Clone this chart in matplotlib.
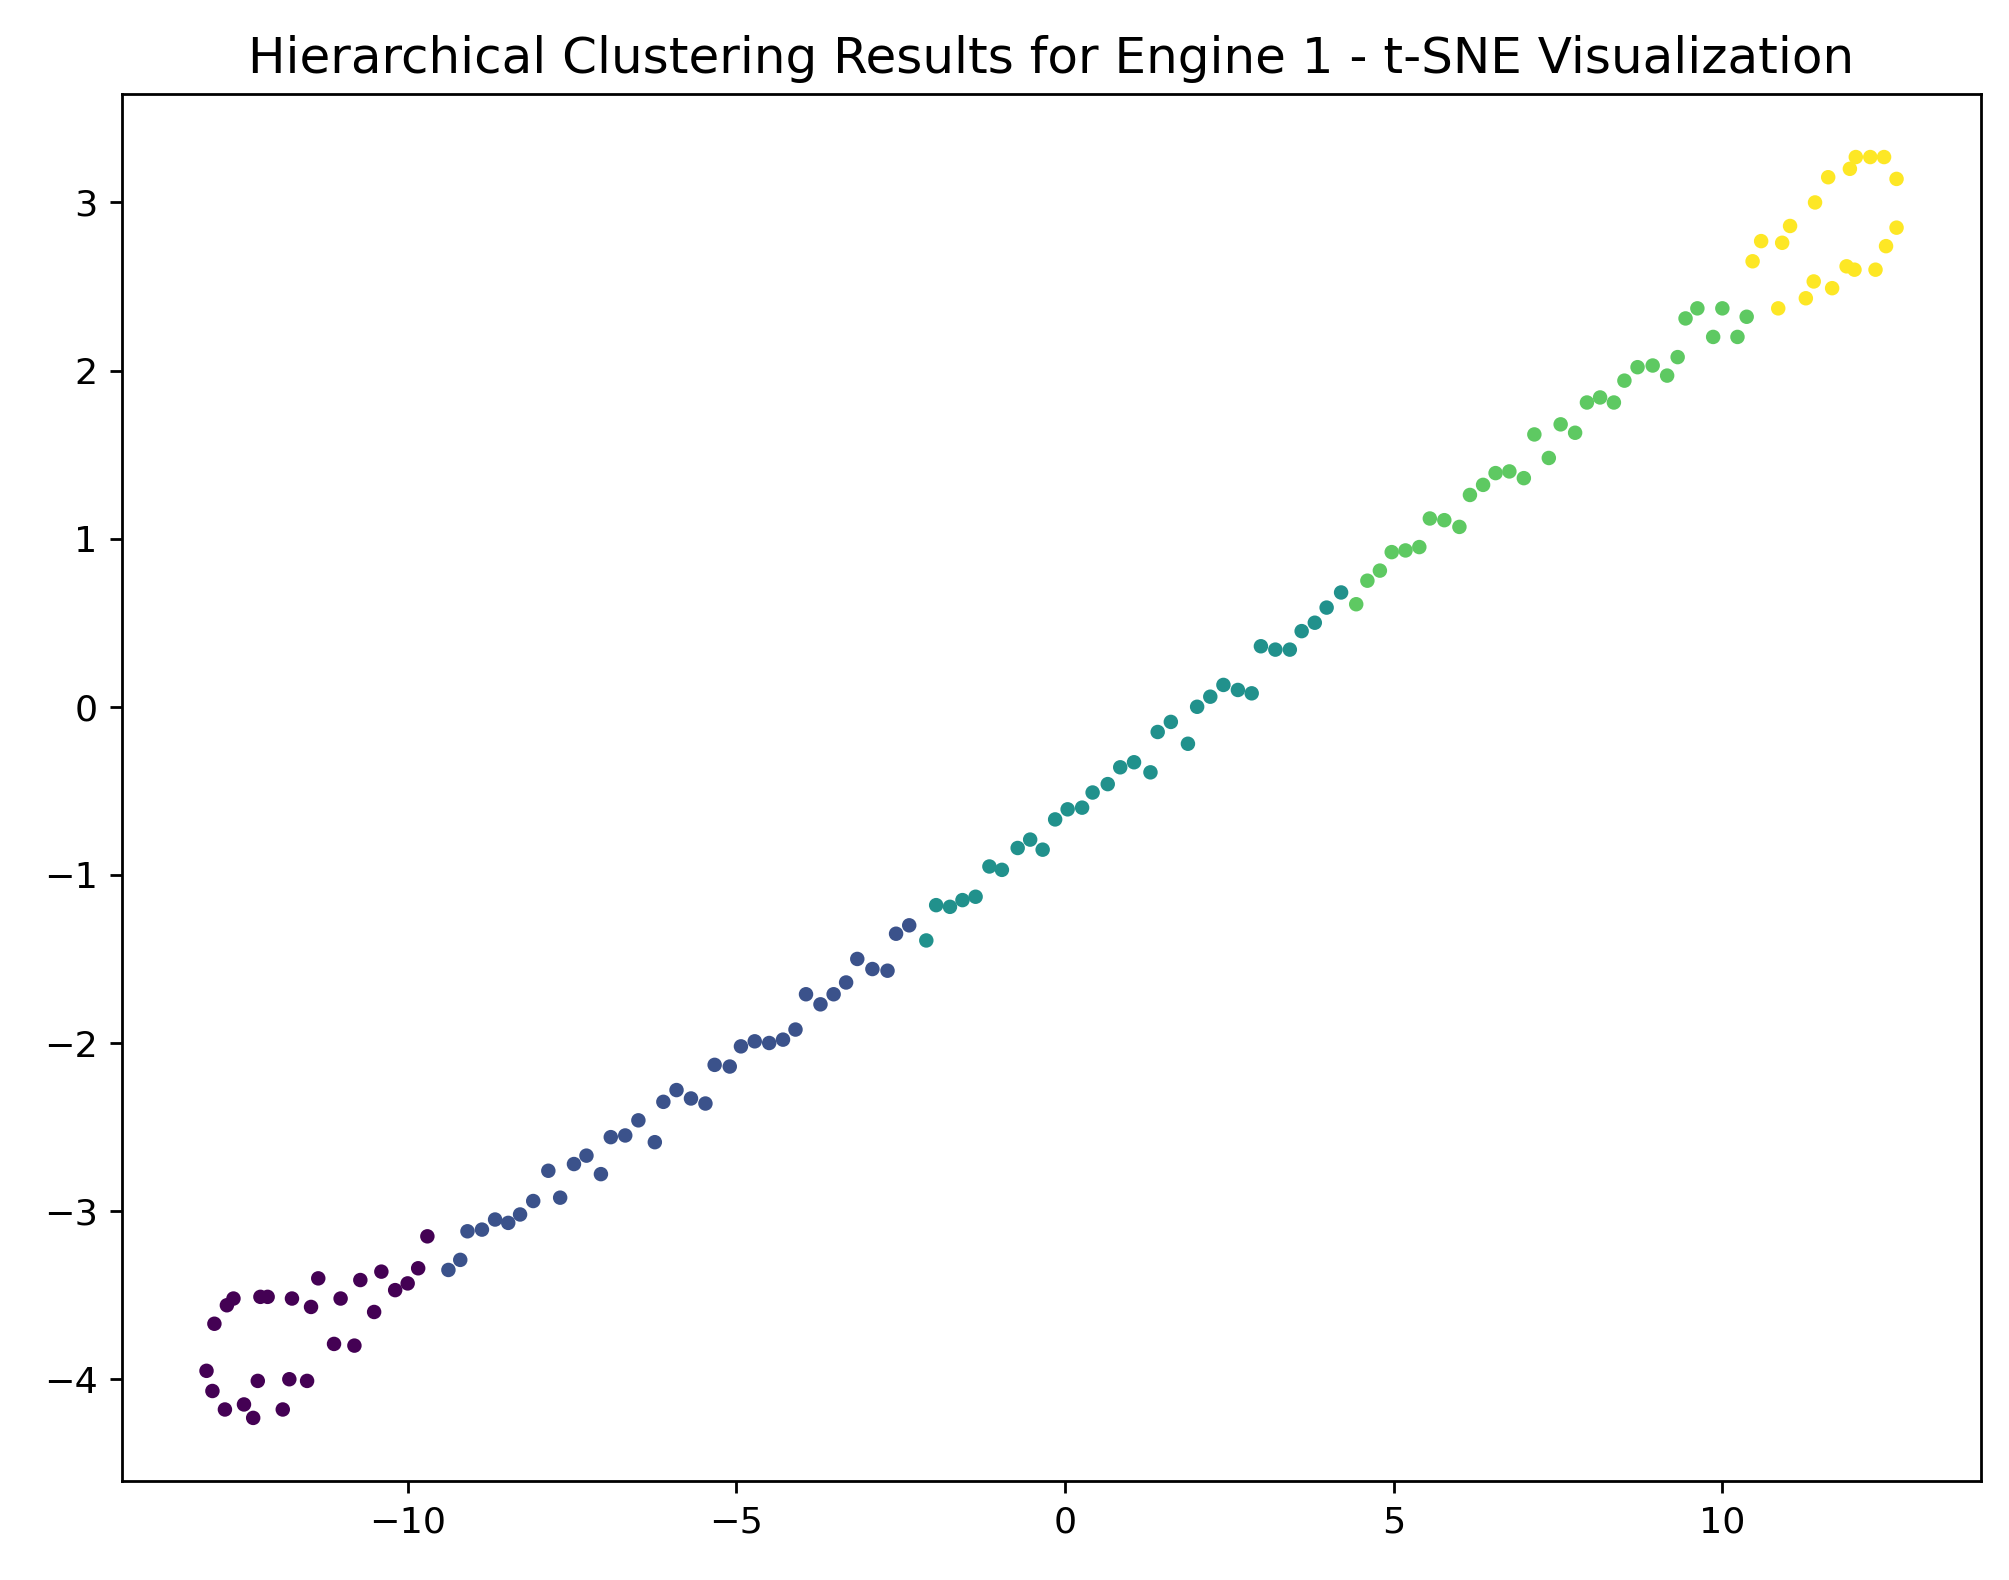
import numpy as np
import matplotlib
matplotlib.use("Agg")
import matplotlib.pyplot as plt

# t-SNE coordinates, grouped by cluster label
x_c0 = [-9.70, -9.84, -10.00, -10.19, -10.40, -10.72, -10.51, -11.02, -11.36, -11.47,
        -11.76, -12.13, -12.24, -12.65, -12.75, -12.94, -11.12, -10.81, -13.06, -12.97,
        -12.78, -12.49, -12.35, -12.28, -11.90, -11.80, -11.53]
y_c0 = [-3.15, -3.34, -3.43, -3.47, -3.36, -3.41, -3.60, -3.52, -3.40, -3.57,
        -3.52, -3.51, -3.51, -3.52, -3.56, -3.67, -3.79, -3.80, -3.95, -4.07,
        -4.18, -4.15, -4.23, -4.01, -4.18, -4.00, -4.01]

x_c1 = [-9.38, -9.20, -9.09, -8.87, -8.67, -8.47, -8.29, -8.09, -7.86, -7.68,
        -7.47, -7.28, -7.06, -6.91, -6.69, -6.49, -6.24, -6.11, -5.91, -5.69,
        -5.47, -5.33, -5.10, -4.93, -4.72, -4.50, -4.29, -4.10, -3.94, -3.72,
        -3.52, -3.33, -3.16, -2.93, -2.70, -2.57, -2.37]
y_c1 = [-3.35, -3.29, -3.12, -3.11, -3.05, -3.07, -3.02, -2.94, -2.76, -2.92,
        -2.72, -2.67, -2.78, -2.56, -2.55, -2.46, -2.59, -2.35, -2.28, -2.33,
        -2.36, -2.13, -2.14, -2.02, -1.99, -2.00, -1.98, -1.92, -1.71, -1.77,
        -1.71, -1.64, -1.50, -1.56, -1.57, -1.35, -1.30]

x_c2 = [-2.11, -1.96, -1.75, -1.56, -1.36, -1.15, -0.96, -0.72, -0.53, -0.34,
        -0.15, 0.04, 0.26, 0.42, 0.65, 0.84, 1.05, 1.30, 1.41, 1.61,
        1.87, 2.01, 2.21, 2.41, 2.63, 2.84, 2.98, 3.20, 3.42, 3.60,
        3.80, 3.98, 4.20]
y_c2 = [-1.39, -1.18, -1.19, -1.15, -1.13, -0.95, -0.97, -0.84, -0.79, -0.85,
        -0.67, -0.61, -0.60, -0.51, -0.46, -0.36, -0.33, -0.39, -0.15, -0.09,
        -0.22, -0.00, 0.06, 0.13, 0.10, 0.08, 0.36, 0.34, 0.34, 0.45,
        0.50, 0.59, 0.68]

x_c3 = [4.43, 4.60, 4.79, 4.97, 5.18, 5.39, 5.55, 5.77, 6.00, 6.16,
        6.36, 6.55, 6.76, 6.98, 7.14, 7.36, 7.54, 7.76, 7.94, 8.14,
        8.35, 8.51, 8.71, 8.94, 9.16, 9.32, 9.44, 9.62, 9.86, 10.00,
        10.23, 10.37]
y_c3 = [0.61, 0.75, 0.81, 0.92, 0.93, 0.95, 1.12, 1.11, 1.07, 1.26,
        1.32, 1.39, 1.40, 1.36, 1.62, 1.48, 1.68, 1.63, 1.81, 1.84,
        1.81, 1.94, 2.02, 2.03, 1.97, 2.08, 2.31, 2.37, 2.20, 2.37,
        2.20, 2.32]

x_c4 = [10.85, 11.27, 11.39, 11.67, 11.89, 12.01, 12.33, 12.49, 12.65, 12.65,
        12.46, 12.25, 12.03, 11.94, 11.61, 11.41, 11.03, 10.91, 10.59, 10.46]
y_c4 = [2.37, 2.43, 2.53, 2.49, 2.62, 2.60, 2.60, 2.74, 2.85, 3.14,
        3.27, 3.27, 3.27, 3.20, 3.15, 3.00, 2.86, 2.76, 2.77, 2.65]

xs = [x_c0, x_c1, x_c2, x_c3, x_c4]
ys = [y_c0, y_c1, y_c2, y_c3, y_c4]

tsne_x = np.concatenate(xs)
tsne_y = np.concatenate(ys)
labels = np.concatenate([np.full(len(a), i) for i, a in enumerate(xs)])

fig = plt.figure(figsize=(8.04, 6.32), dpi=250)
ax = fig.add_axes([0.0607, 0.0627, 0.9249, 0.8778])
ax.scatter(tsne_x, tsne_y, c=labels, cmap="viridis", s=10)
ax.tick_params(labelsize=10.5)
ax.set_title("Hierarchical Clustering Results for Engine 1 - t-SNE Visualization", fontsize=14.4)
fig.savefig("out.png", dpi=250)
